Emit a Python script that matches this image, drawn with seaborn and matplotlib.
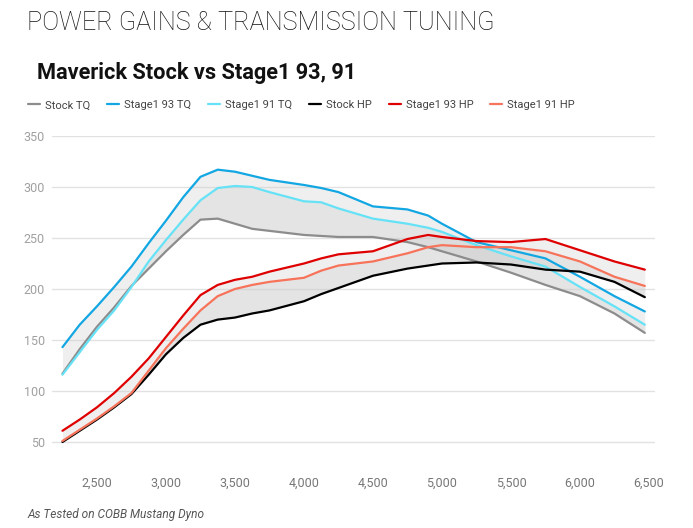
import numpy as np
import pandas as pd
import matplotlib.pyplot as plt
import seaborn as sns

# engine speed (rpm) and dyno readings
rpm = [2250, 2375, 2500, 2625, 2750, 2875, 3000, 3125, 3250, 3375, 3500, 3625, 3750,
       4000, 4125, 4250, 4500, 4750, 4900, 5000, 5250, 5500, 5750, 6000, 6250, 6470]

stock_tq = [117, 141, 163, 182, 203, 220, 237, 253, 268, 269, 264, 259, 257,
            253, 252, 251, 251, 246, 241, 237, 227, 216, 204, 193, 176, 157]
s93_tq = [143, 165, 183, 202, 222, 245, 267, 290, 310, 317, 315, 311, 307,
          302, 299, 295, 281, 278, 272, 264, 246, 238, 230, 212, 193, 178]
s91_tq = [116, 138, 160, 179, 202, 227, 248, 268, 287, 299, 301, 300, 295,
          286, 285, 279, 269, 264, 260, 256, 243, 232, 222, 202, 183, 165]
stock_hp = [50, 61, 72, 84, 97, 116, 136, 152, 165, 170, 172, 176, 179,
            188, 195, 201, 213, 220, 223, 225, 226, 224, 219, 217, 207, 192]
s93_hp = [61, 72, 84, 98, 114, 132, 153, 174, 194, 204, 209, 212, 217,
          225, 230, 234, 237, 249, 253, 251, 247, 246, 249, 238, 227, 219]
s91_hp = [51, 62, 73, 85, 98, 120, 142, 161, 179, 193, 200, 204, 207,
          211, 218, 223, 227, 235, 241, 243, 241, 241, 237, 227, 212, 203]

series = ["Stock TQ", "Stage1 93 TQ", "Stage1 91 TQ", "Stock HP", "Stage1 93 HP", "Stage1 91 HP"]
colors = ["#8c8c8c", "#12a7e3", "#66e2f7", "#000000", "#df0000", "#f7735a"]
y_ticks = [50, 100, 150, 200, 250, 300, 350]
x_ticks = [2500, 3000, 3500, 4000, 4500, 5000, 5500, 6000, 6500]

df = pd.DataFrame({"rpm": rpm * 6,
                   "value": stock_tq + s93_tq + s91_tq + stock_hp + s93_hp + s91_hp,
                   "series": np.repeat(series, len(rpm))})

sns.set_theme(style="white")
plt.rcParams["font.family"] = ["Roboto", "DejaVu Sans"]

fig = plt.figure(figsize=(6.93, 5.28), dpi=100)
ax = fig.add_axes([0.075, 0.1146, 0.87, 0.6278])

# shaded gains, two overlapping layers
for upper, lower in [(s93_tq, stock_tq), (s91_tq, stock_tq), (s93_hp, stock_hp), (s91_hp, stock_hp)]:
    ax.fill_between(rpm, lower, upper, color="#cccccc", alpha=0.3, lw=0, zorder=1)

sns.lineplot(data=df, x="rpm", y="value", hue="series", hue_order=series,
             palette=dict(zip(series, colors)), linewidth=1.6, ax=ax, zorder=3)

ax.set_xlim(2174, 6543)
ax.set_ylim(25, 350)
ax.set_xticks(x_ticks)
ax.set_xticklabels([f"{t:,}" for t in x_ticks])
ax.set_yticks(y_ticks)
ax.set_xlabel("")
ax.set_ylabel("")
ax.grid(axis="y", color="#e2e2e2", lw=1)
ax.grid(axis="x", visible=False)
sns.despine(ax=ax, left=True, bottom=True)
ax.tick_params(axis="y", length=0, pad=5, labelsize=9, labelcolor="#a0a0a0")
ax.tick_params(axis="x", length=0, pad=7, labelsize=9, labelcolor="#777777")

ax.legend(loc="upper left", bbox_to_anchor=(0.04, 0.81), bbox_transform=fig.transFigure,
          ncol=6, frameon=False, fontsize=8, handlelength=1.1, handletextpad=0.45,
          columnspacing=1.5, labelcolor="#444444", borderaxespad=0, borderpad=0)

fig.text(0.039, 0.957, "POWER GAINS & TRANSMISSION TUNING", fontsize=18.2, fontweight="light",
         color="#111111", va="center", ha="left")
fig.text(0.053, 0.862, "Maverick Stock vs Stage1 93, 91", fontsize=15.7, fontweight="bold",
         color="#111111", va="center", ha="left")
fig.text(0.039, 0.025, "As Tested on COBB Mustang Dyno", fontsize=8.6, style="italic",
         color="#555555", va="center", ha="left")

fig.savefig("out.png", dpi=100)
